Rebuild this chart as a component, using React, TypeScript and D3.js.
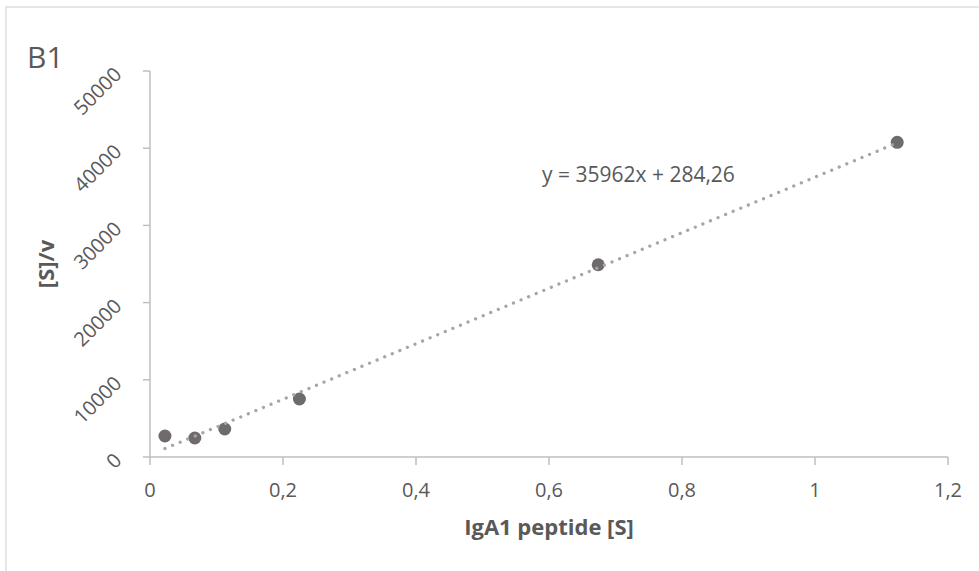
import React from "react";
import * as d3 from "d3";

const xValues = [0.0225, 0.0674, 0.1124, 0.2247, 0.674, 1.1236];
const yValues = [2720, 2460, 3630, 7510, 24900, 40760];
const xTicks = [0, 0.2, 0.4, 0.6, 0.8, 1, 1.2];
const yTicks = [0, 10000, 20000, 30000, 40000, 50000];
const slope = 35962;
const intercept = 284.26;
const equationLabel = "y = 35962x + 284,26";
const chartTitle = "B1";
const xTitle = "IgA1 peptide [S]";
const yTitle = "[S]/v";

const W = 979;
const H = 571;
const FONT = "'Open Sans', 'Liberation Sans', sans-serif";
const TEXT = "#595959";
const AXIS = "#bfbfbf";

export default function App() {
  const x = d3.scaleLinear().domain([0, 1.2]).range([150, 948]);
  const y = d3.scaleLinear().domain([0, 50000]).range([457, 71]);
  const fmt = (v: number) => String(v).replace(".", ",");
  const x0 = xValues[0];
  const x1 = xValues[xValues.length - 1];
  const line = d3
    .line<number>()
    .x((d) => x(d))
    .y((d) => y(slope * d + intercept));

  return (
    <svg
      width={W}
      height={H}
      style={{ position: "absolute", left: 0, top: 0, background: "#fff" }}
      fontFamily={FONT}
    >
      <rect x={6} y={7} width={W + 10} height={H + 10} fill="#fff" stroke="#d9d9d9" strokeWidth={1.3} />
      <text x={27} y={68} fontSize={30} fill={TEXT}>{chartTitle}</text>

      {/* y axis */}
      <line x1={150} x2={150} y1={y(50000)} y2={y(0)} stroke={AXIS} strokeWidth={1.5} />
      {yTicks.map((t) => (
        <g key={"y" + t}>
          <line x1={143} x2={150} y1={y(t)} y2={y(t)} stroke={AXIS} strokeWidth={1.5} />
          <text
            x={119}
            y={y(t) + 1}
            fontSize={20}
            fill={TEXT}
            textAnchor="end"
            dominantBaseline="middle"
            transform={`rotate(-45, 119, ${y(t) + 1})`}
          >
            {t}
          </text>
        </g>
      ))}

      {/* x axis */}
      <line x1={x(0)} x2={x(1.2)} y1={457} y2={457} stroke={AXIS} strokeWidth={1.5} />
      {xTicks.map((t) => (
        <g key={"x" + t}>
          <line x1={x(t)} x2={x(t)} y1={457} y2={465} stroke={AXIS} strokeWidth={1.5} />
          <text x={x(t)} y={497} fontSize={20} fill={TEXT} textAnchor="middle">
            {fmt(t)}
          </text>
        </g>
      ))}

      <text x={549} y={535} fontSize={22} fontWeight="bold" fill={TEXT} textAnchor="middle">
        {xTitle}
      </text>
      <text
        x={0}
        y={0}
        fontSize={22}
        fontWeight="bold"
        fill={TEXT}
        textAnchor="middle"
        transform={`translate(54, 264) rotate(-90)`}
      >
        {yTitle}
      </text>

      {/* points */}
      {xValues.map((xv, i) => (
        <circle key={"p" + i} cx={x(xv)} cy={y(yValues[i])} r={6.5} fill="#6f6b6b" />
      ))}

      {/* trendline */}
      <path
        d={line([x0, x1]) || ""}
        fill="none"
        stroke="#a6a6a6"
        strokeWidth={3.3}
        strokeLinecap="round"
        strokeDasharray="0.01 8.2"
      />

      <text x={542} y={182} fontSize={21} fill={TEXT}>{equationLabel}</text>
    </svg>
  );
}
